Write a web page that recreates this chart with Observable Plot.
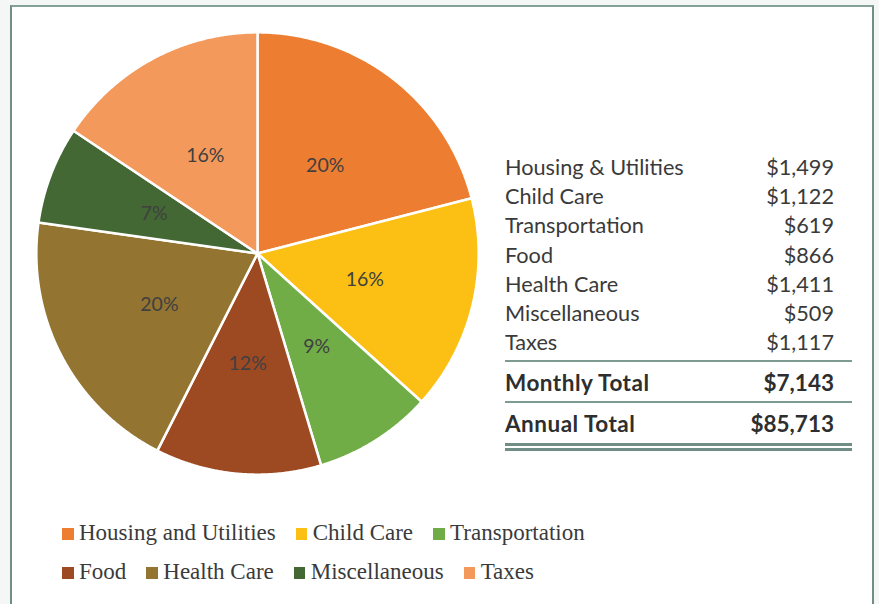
<!DOCTYPE html>
<html>
<head>
<meta charset="utf-8">
<script src="https://cdn.jsdelivr.net/npm/d3@7"></script>
<script src="https://cdn.jsdelivr.net/npm/@observablehq/plot@0.6"></script>
<style>
  html, body { margin: 0; padding: 0; width: 879px; height: 604px; overflow: hidden; background: #f4f7f5; }
  #frame { position: absolute; left: 10px; top: 5px; width: 860px; height: 640px; background: #fff;
           border-left: 2px solid #6f8f86; border-top: 2px solid #83a198; border-right: 2px solid #6f8f86; }
  #pie { position: absolute; left: 27px; top: 22.5px; }
  .row { position: absolute; left: 505px; width: 329px; height: 30px; line-height: 30px;
         display: flex; justify-content: space-between; font-family: Lato, sans-serif; font-size: 21.7px; color: #3a3a3a; white-space: nowrap; }
  .row.total { font-weight: bold; color: #2e2e2e; font-size: 22.5px; }
  .row.total span:first-child { letter-spacing: 0.5px; }
  .rule { position: absolute; left: 505px; width: 347px; background: #7d9b91; }
  .legrow { position: absolute; left: 62px; height: 24px; line-height: 24px; font-family: "Liberation Serif", serif;
            font-size: 23px; color: #3a3a3a; white-space: nowrap; }
  .item { display: inline-block; margin-right: 20px; }
  .sw { display: inline-block; width: 11.5px; height: 11.5px; margin-right: 5.5px; }
</style>
</head>
<body>
<div id="frame"></div>
<div id="pie"></div>
<div id="table"></div>
<div id="legend"></div>
<script>
// ---- data ----
const categories = ["Housing & Utilities", "Child Care", "Transportation", "Food", "Health Care", "Miscellaneous", "Taxes"];
const legendNames = ["Housing and Utilities", "Child Care", "Transportation", "Food", "Health Care", "Miscellaneous", "Taxes"];
const amounts = [1499, 1122, 619, 866, 1411, 509, 1117];
const amountLabels = ["$1,499", "$1,122", "$619", "$866", "$1,411", "$509", "$1,117"];
const pctLabels = ["20%", "16%", "9%", "12%", "20%", "7%", "16%"];
const colors = ["#ED7D31", "#FBC013", "#70AD47", "#9D4A23", "#937430", "#436834", "#F4995C"];
const totalLabels = ["Monthly Total", "Annual Total"];
const totalValues = ["$7,143", "$85,713"];
const legendRows = [[0, 1, 2], [3, 4, 5, 6]];

// ---- pie geometry from values ----
const arcs = d3.pie().sort(null).value(d => d)(amounts);
const slicePts = [];
arcs.forEach((a, i) => {
  const cat = categories[i];
  slicePts.push({cat, x: 0, y: 0});
  const n = Math.max(2, Math.ceil((a.endAngle - a.startAngle) / 0.005));
  for (let k = 0; k <= n; k++) {
    const t = a.startAngle + (a.endAngle - a.startAngle) * k / n;
    slicePts.push({cat, x: Math.sin(t), y: Math.cos(t)});
  }
  slicePts.push({cat, x: 0, y: 0});
});
const labelPts = arcs.map((a, i) => {
  const m = (a.startAngle + a.endAngle) / 2;
  return {x: 0.5 * Math.sin(m), y: 0.5 * Math.cos(m), text: pctLabels[i]};
});

const chart = Plot.plot({
  width: 460, height: 460, margin: 0,
  x: {domain: [-1.04, 1.04], axis: null},
  y: {domain: [-1.04, 1.04], axis: null},
  color: {domain: categories, range: colors},
  style: {background: "transparent"},
  marks: [
    Plot.line(slicePts, {x: "x", y: "y", z: "cat", fill: "cat", stroke: "white", strokeWidth: 2.5, strokeLinejoin: "round"}),
    Plot.text(labelPts, {x: "x", y: "y", text: "text", fill: "#404040", fontSize: 19.5, fontFamily: "Lato, sans-serif"})
  ]
});
document.getElementById("pie").appendChild(chart);

// ---- table ----
const table = d3.select("#table");
const rowCenter0 = 167, rowStep = 29.3;
categories.forEach((c, i) => {
  const r = table.append("div").attr("class", "row").style("top", (rowCenter0 + i * rowStep - 15.4) + "px");
  r.append("span").text(c);
  r.append("span").text(amountLabels[i]);
});
const totalCenters = [384, 424.5];
totalLabels.forEach((c, i) => {
  const r = table.append("div").attr("class", "row total").style("top", (totalCenters[i] - 15.6) + "px");
  r.append("span").text(c);
  r.append("span").text(totalValues[i]);
});
[[360, 1.5], [401, 1.5], [443.2, 2.4], [448.2, 2.4]].forEach(([y, h]) => {
  table.append("div").attr("class", "rule").style("top", y + "px").style("height", h + "px")
    .style("background", h > 2 ? "#6f8f86" : "#7d9b91");
});

// ---- legend ----
const legend = d3.select("#legend");
const legendTops = [520.5, 559.5];
legendRows.forEach((idxs, r) => {
  const row = legend.append("div").attr("class", "legrow").style("top", legendTops[r] + "px");
  idxs.forEach(i => {
    const it = row.append("span").attr("class", "item");
    it.append("span").attr("class", "sw").style("background", colors[i]);
    it.append("span").text(legendNames[i]);
  });
});
</script>
</body>
</html>
